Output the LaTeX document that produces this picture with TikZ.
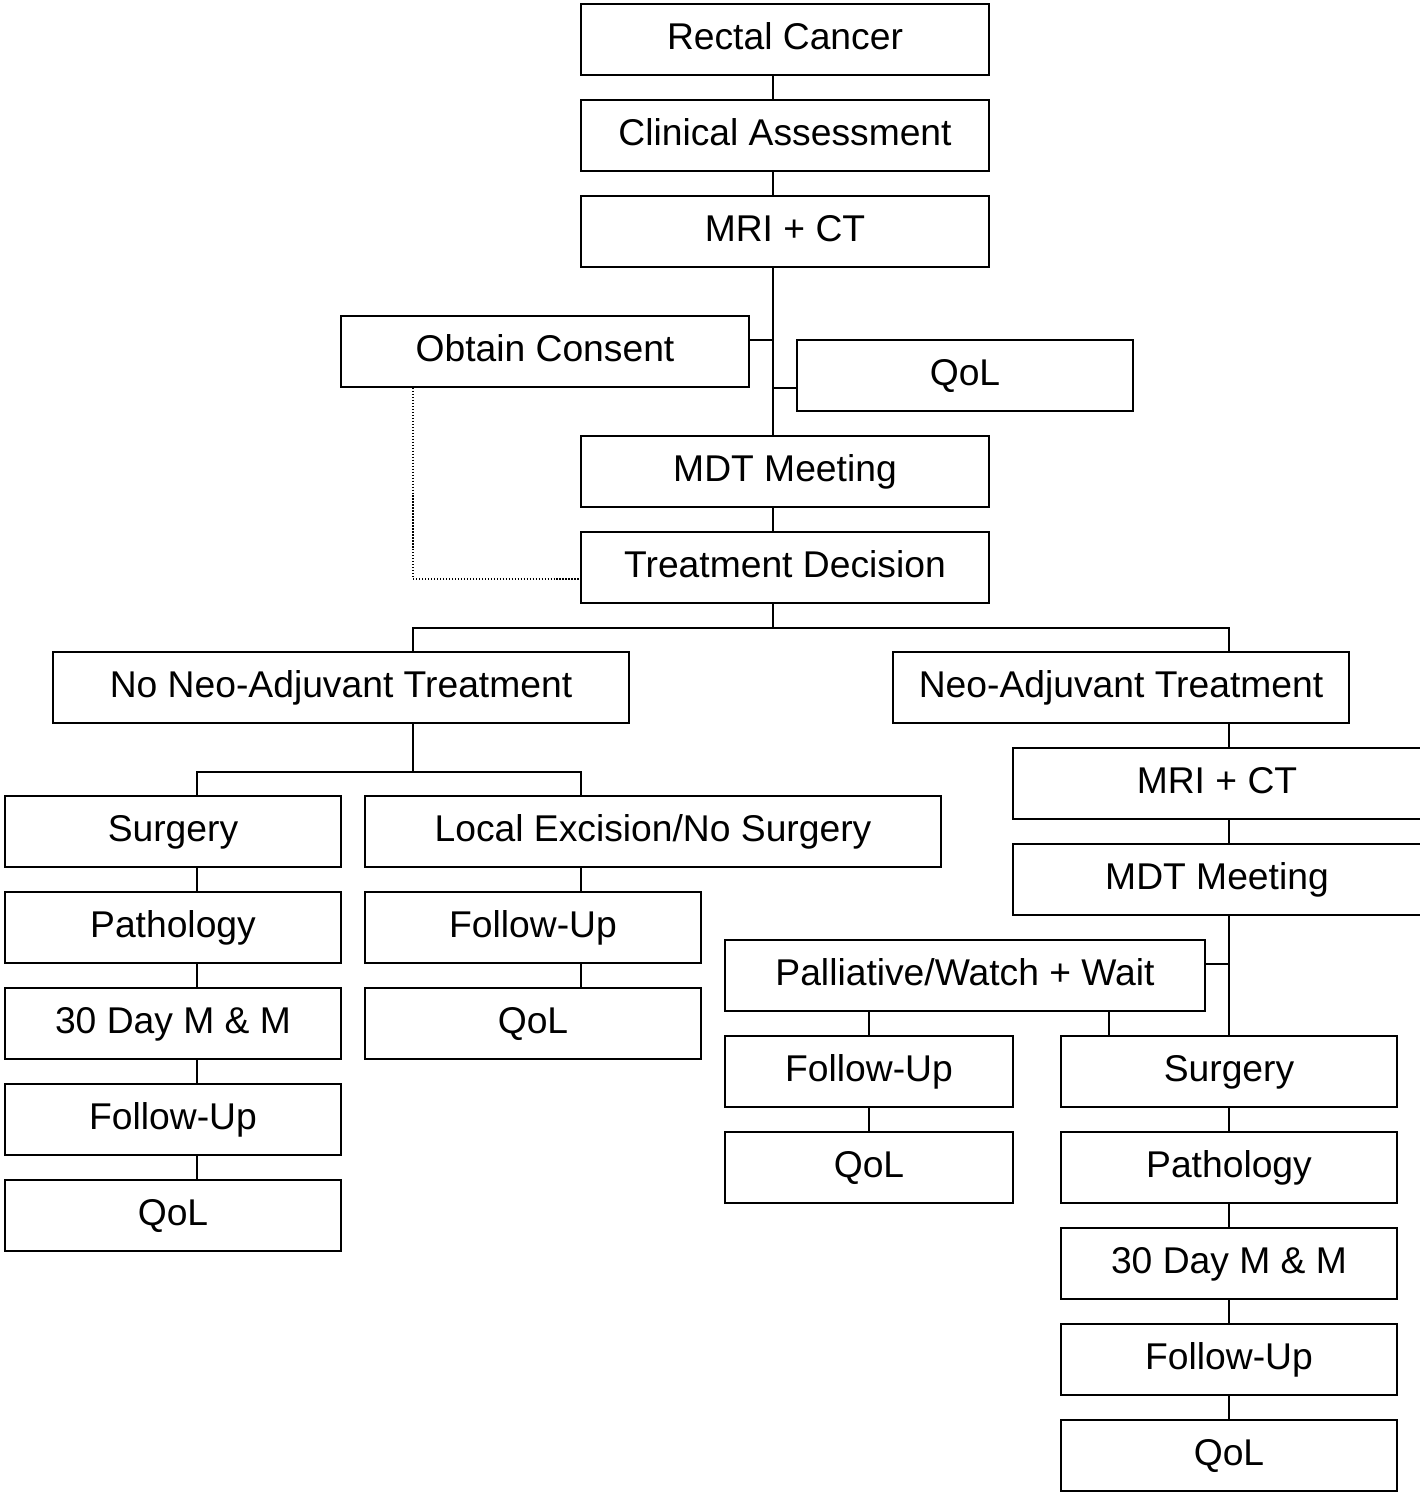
\documentclass[tikz,border=0pt]{standalone}
\usepackage{fontspec}
\setmainfont{Liberation Sans}
\usepackage{tikz}

\tikzset{
  box/.style={draw, line width=1.1pt, rectangle, inner sep=0pt,
    minimum height=1.42cm, text height=1.4em, text depth=.25em,
    font=\fontsize{21.2}{25}\selectfont},
  link/.style={line width=1.1pt},
  consent/.style={densely dotted, line width=0.7pt}
}

\begin{document}
\begin{tikzpicture}[x=0.02cm, y=-0.02cm]
    \useasboundingbox (0,0) rectangle (1420,1492);

    % Work-up
    \node[box, minimum width=8.16cm] (rc)  at (785,39.5)  {Rectal Cancer};
    \node[box, minimum width=8.16cm] (ca)  at (785,135.5) {Clinical Assessment};
    \node[box, minimum width=8.16cm] (mri) at (785,231.5) {MRI + CT};
    \node[box, minimum width=8.16cm] (oc)  at (545,351.5) {Obtain Consent};
    \node[box, minimum width=6.72cm] (qol) at (965,375.5) {QoL};
    \node[box, minimum width=8.16cm] (mdt) at (785,471.5) {MDT Meeting};
    \node[box, minimum width=8.16cm] (td)  at (785,567.5) {Treatment Decision};

    % Junction points
    \coordinate (spA) at (773,0);
    \coordinate (jOC) at (773,340);
    \coordinate (jQ)  at (773,388);
    \coordinate (jD)  at (413,579);
    \coordinate (jT)  at (773,628);
    \coordinate (jTL) at (413,628);
    \coordinate (jTR) at (1229,628);
    \coordinate (jN)  at (413,772);
    \coordinate (jNL) at (197,772);
    \coordinate (jNR) at (581,772);
    \coordinate (jP)  at (1229,964);
    \coordinate (jPS) at (1109,0);

    \draw[link] (rc.south -| spA) -- (ca.north -| spA);
    \draw[link] (ca.south -| spA) -- (mri.north -| spA);
    \draw[link] (mri.south -| spA) -- (mdt.north -| spA);
    \draw[link] (oc.east |- jOC) -- (jOC);
    \draw[link] (jQ) -- (qol.west |- jQ);
    \draw[link] (mdt.south -| spA) -- (td.north -| spA);
    \draw[consent] (oc.south -| jD) -- (jD) -- (td.west |- jD);

    % Treatment branches
    \node[box, minimum width=11.52cm] (nna) at (341,687.5)  {No Neo-Adjuvant Treatment};
    \node[box, minimum width=9.12cm]  (na)  at (1121,687.5) {Neo-Adjuvant Treatment};
    \draw[link] (td.south -| spA) -- (jT);
    \draw[link] (nna.north -| jTL) -- (jTL) -- (jTR) -- (na.north -| jTR);

    % No neo-adjuvant side
    \node[box, minimum width=6.72cm]  (sgL) at (173,831.5)  {Surgery};
    \node[box, minimum width=11.52cm] (le)  at (653,831.5)  {Local Excision/No Surgery};
    \node[box, minimum width=6.72cm]  (paL) at (173,927.5)  {Pathology};
    \node[box, minimum width=6.72cm]  (mmL) at (173,1023.5) {30 Day M \& M};
    \node[box, minimum width=6.72cm]  (fuL) at (173,1119.5) {Follow-Up};
    \node[box, minimum width=6.72cm]  (qoL) at (173,1215.5) {QoL};
    \node[box, minimum width=6.72cm]  (fuM) at (533,927.5)  {Follow-Up};
    \node[box, minimum width=6.72cm]  (qoM) at (533,1023.5) {QoL};

    \draw[link] (nna.south -| jN) -- (jN);
    \draw[link] (sgL.north -| jNL) -- (jNL) -- (jNR) -- (le.north -| jNR);
    \foreach \a/\b in {sgL/paL, paL/mmL, mmL/fuL, fuL/qoL}
        \draw[link] (\a.south -| jNL) -- (\b.north -| jNL);
    \draw[link] (le.south -| jNR) -- (fuM.north -| jNR);
    \draw[link] (fuM.south -| jNR) -- (qoM.north -| jNR);

    % Neo-adjuvant side
    \node[box, minimum width=8.16cm] (mriR) at (1217,783.5)  {MRI + CT};
    \node[box, minimum width=8.16cm] (mdtR) at (1217,879.5)  {MDT Meeting};
    \node[box, minimum width=9.6cm]  (pw)   at (965,975.5)   {Palliative/Watch + Wait};
    \node[box, minimum width=5.76cm] (fuP)  at (869,1071.5)  {Follow-Up};
    \node[box, minimum width=5.76cm] (qoP)  at (869,1167.5)  {QoL};
    \node[box, minimum width=6.72cm] (sgR)  at (1229,1071.5) {Surgery};
    \node[box, minimum width=6.72cm] (paR)  at (1229,1167.5) {Pathology};
    \node[box, minimum width=6.72cm] (mmR)  at (1229,1263.5) {30 Day M \& M};
    \node[box, minimum width=6.72cm] (fuR)  at (1229,1359.5) {Follow-Up};
    \node[box, minimum width=6.72cm] (qoR)  at (1229,1455.5) {QoL};

    \draw[link] (na.south -| jTR) -- (mriR.north -| jTR);
    \draw[link] (mriR.south -| jTR) -- (mdtR.north -| jTR);
    \draw[link] (mdtR.south -| jTR) -- (sgR.north);
    \draw[link] (pw.east |- jP) -- (jP);
    \draw[link] (pw.south -| fuP) -- (fuP.north);
    \draw[link] (pw.south -| jPS) -- (sgR.north -| jPS);
    \draw[link] (fuP.south) -- (qoP.north);
    \foreach \a/\b in {sgR/paR, paR/mmR, mmR/fuR, fuR/qoR}
        \draw[link] (\a.south) -- (\b.north);
\end{tikzpicture}
\end{document}
